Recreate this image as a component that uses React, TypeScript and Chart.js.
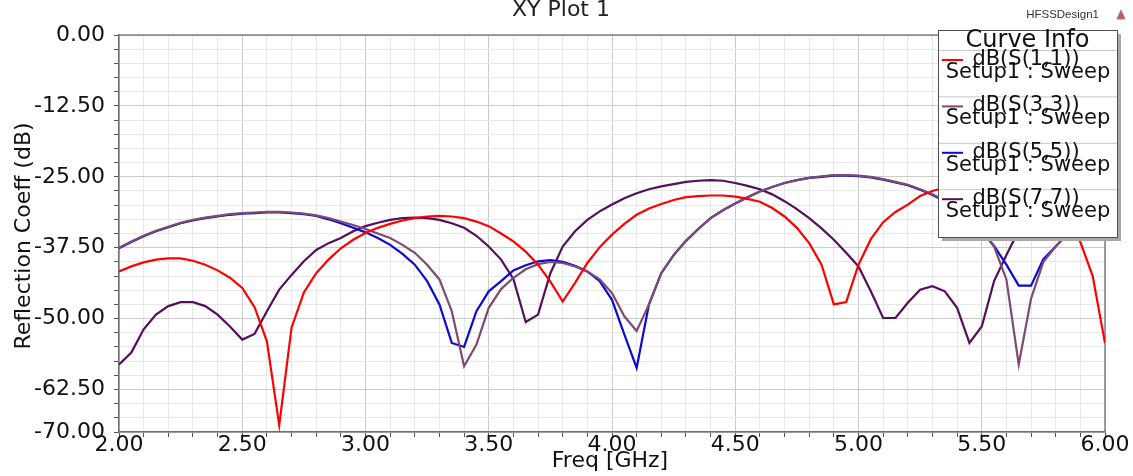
import React, { useEffect, useRef } from "react";
import { Chart, registerables } from "chart.js";

Chart.register(...registerables);

const freqs = [
  2.0, 2.05, 2.1, 2.15, 2.2, 2.25, 2.3, 2.35, 2.4, 2.45,
  2.5, 2.55, 2.6, 2.65, 2.7, 2.75, 2.8, 2.85, 2.9, 2.95,
  3.0, 3.05, 3.1, 3.15, 3.2, 3.25, 3.3, 3.35, 3.4, 3.45,
  3.5, 3.55, 3.6, 3.65, 3.7, 3.75, 3.8, 3.85, 3.9, 3.95,
  4.0, 4.05, 4.1, 4.15, 4.2, 4.25, 4.3, 4.35, 4.4, 4.45,
  4.5, 4.55, 4.6, 4.65, 4.7, 4.75, 4.8, 4.85, 4.9, 4.95,
  5.0, 5.05, 5.1, 5.15, 5.2, 5.25, 5.3, 5.35, 5.4, 5.45,
  5.5, 5.55, 5.6, 5.65, 5.7, 5.75, 5.8, 5.85, 5.9, 5.95,
  6.0,
];

const s11 = [
  -41.7, -40.8, -40.1, -39.6, -39.4, -39.4, -39.8, -40.5, -41.5, -42.8,
  -44.6, -48.0, -54.0, -68.8, -51.6, -45.4, -42.0, -39.6, -37.6, -36.1,
  -34.9, -34.0, -33.3, -32.7, -32.3, -32.0, -31.9, -32.0, -32.3, -32.9,
  -33.7, -35.0, -36.4, -38.2, -40.5, -43.5, -47.0, -43.7, -40.2, -37.4,
  -35.2, -33.3, -31.7, -30.6, -29.8, -29.1, -28.6, -28.4, -28.3, -28.3,
  -28.5, -28.9, -29.4, -30.5, -32.0, -34.0, -36.7, -40.5, -47.5, -47.1,
  -40.5, -36.0, -33.0, -31.2, -29.9, -28.4, -27.5, -26.9, -26.5, -26.2,
  -26.0, -25.9, -26.0, -26.4, -27.2, -28.5, -30.3, -33.0, -36.5, -42.5,
  -54.3,
];

const s33 = [
  -37.5, -36.4, -35.4, -34.5, -33.8, -33.1, -32.6, -32.2, -31.9, -31.6,
  -31.4, -31.3, -31.2, -31.2, -31.3, -31.5, -31.8, -32.3, -32.9, -33.5,
  -34.2, -35.0, -35.8, -37.0, -38.4, -40.5, -43.1, -48.7, -58.4, -54.6,
  -48.1, -44.8, -42.8, -41.3, -40.4, -40.0, -40.2, -40.8, -41.7, -43.1,
  -45.5, -49.6, -52.2, -47.5, -42.0, -38.8, -36.3, -34.2, -32.3, -30.9,
  -29.7, -28.6, -27.6, -26.8, -26.1, -25.6, -25.2, -24.9, -24.7, -24.7,
  -24.8, -25.0, -25.4, -25.9, -26.4, -27.2, -28.1, -29.2, -30.5, -32.2,
  -34.5, -37.3, -43.1, -58.1, -46.5, -40.0, -37.3, -35.0, -33.0, -31.8,
  -31.2,
];

const s55 = [
  -37.6, -36.5, -35.5, -34.6, -33.9, -33.2, -32.7, -32.3, -32.0, -31.7,
  -31.5, -31.4, -31.3, -31.3, -31.4, -31.6, -31.9, -32.5, -33.2, -34.0,
  -34.8, -35.8, -37.0, -38.6, -40.5, -43.4, -47.5, -54.3, -55.0, -48.7,
  -45.2, -43.4, -41.5, -40.6, -39.9, -39.7, -40.0, -40.7, -41.7, -43.4,
  -46.7, -52.8, -58.7, -47.5, -42.0, -38.8, -36.3, -34.2, -32.3, -30.9,
  -29.7, -28.6, -27.6, -26.8, -26.1, -25.6, -25.2, -25.0, -24.8, -24.8,
  -24.9, -25.1, -25.5, -26.0, -26.5, -27.3, -28.2, -29.3, -30.6, -32.3,
  -34.5, -37.2, -40.5, -44.2, -44.2, -39.5, -37.3, -35.0, -33.0, -31.8,
  -31.2,
];

const s77 = [
  -58.1, -56.0, -51.9, -49.3, -47.8, -47.1, -47.1, -47.8, -49.3, -51.4,
  -53.7, -52.7, -48.7, -44.9, -42.3, -39.9, -37.9, -36.7, -35.8, -34.6,
  -33.7, -33.1, -32.6, -32.3, -32.2, -32.3, -32.6, -33.2, -34.0, -35.4,
  -37.3, -39.6, -43.0, -50.6, -49.3, -42.0, -37.3, -34.6, -32.6, -31.1,
  -29.9, -28.8, -27.9, -27.2, -26.7, -26.3, -25.9, -25.7, -25.6, -25.7,
  -26.1, -26.6, -27.2, -28.1, -29.3, -30.7, -32.3, -34.1, -36.1, -38.4,
  -40.8, -45.2, -49.9, -49.9, -47.2, -44.9, -44.3, -45.2, -48.1, -54.3,
  -51.4, -43.4, -38.8, -34.5, -31.5, -29.5, -28.3, -28.0, -28.5, -30.0,
  -32.0,
];

const seriesNames = ["dB(S(1,1))", "dB(S(3,3))", "dB(S(5,5))", "dB(S(7,7))"];
const seriesSub = "Setup1 : Sweep";
const seriesColors = ["#ff0000", "#7d4a72", "#0a0ad2", "#52105a"];
const seriesValues = [s11, s33, s55, s77];

const yMajorTicks = [0, -12.5, -25, -37.5, -50, -62.5, -70];
const xMajorTicks = [2.0, 2.5, 3.0, 3.5, 4.0, 4.5, 5.0, 5.5, 6.0];
const yMinorStep = 2.5;
const xMinorStep = 0.1;

const chartTitle = "XY Plot 1";
const designName = "HFSSDesign1";
const legendTitle = "Curve Info";
const xTitle = "Freq [GHz]";
const yTitle = "Reflection Coeff (dB)";

const FONT = "'DejaVu Sans', sans-serif";

const isMajor = (v: number, list: number[]) => list.some((m) => Math.abs(m - v) < 1e-6);

const overlayPlugin = {
  id: "overlay",
  beforeDatasetsDraw(chart: any) {
    const { ctx, chartArea: a } = chart;
    ctx.save();
    ctx.strokeStyle = "#808080";
    ctx.lineWidth = 1.5;
    ctx.beginPath();
    ctx.moveTo(a.left, a.top);
    ctx.lineTo(a.right, a.top);
    ctx.lineTo(a.right, a.bottom);
    ctx.stroke();
    ctx.restore();
  },
  afterDraw(chart: any) {
    const { ctx } = chart;
    ctx.save();
    // Title (partly cut off at the top, as in the reference)
    ctx.fillStyle = "#222";
    ctx.font = `22px ${FONT}`;
    ctx.textAlign = "center";
    ctx.textBaseline = "alphabetic";
    ctx.fillText(chartTitle, 561, 16);

    // design name
    ctx.font = "11.5px 'Liberation Sans', Arial, sans-serif";
    ctx.fillStyle = "#333";
    ctx.textAlign = "right";
    ctx.fillText(designName, 1099, 18);
    // logo
    ctx.beginPath();
    ctx.moveTo(1117, 19);
    ctx.lineTo(1121, 10);
    ctx.lineTo(1125, 19);
    ctx.closePath();
    ctx.fillStyle = "#e05050";
    ctx.fill();
    ctx.strokeStyle = "#888";
    ctx.lineWidth = 1;
    ctx.stroke();

    // Axis titles
    ctx.fillStyle = "#111";
    ctx.font = `22px ${FONT}`;
    ctx.textAlign = "center";
    ctx.textBaseline = "alphabetic";
    ctx.fillText(xTitle, 610, 467);
    ctx.save();
    ctx.translate(30, 236);
    ctx.rotate(-Math.PI / 2);
    ctx.fillText(yTitle, 0, 0);
    ctx.restore();

    // Legend box
    const bx = 938, by = 30, bw = 179, bh = 207;
    ctx.fillStyle = "#a8a8a8";
    ctx.fillRect(bx + 4, by + 4, bw, bh);
    ctx.fillStyle = "#ffffff";
    ctx.fillRect(bx, by, bw, bh);
    ctx.strokeStyle = "#505050";
    ctx.lineWidth = 1;
    ctx.strokeRect(bx + 0.5, by + 0.5, bw, bh);

    const cx = bx + bw / 2;
    ctx.fillStyle = "#111";
    ctx.font = `24px ${FONT}`;
    ctx.textAlign = "center";
    ctx.fillText(legendTitle, cx, 47);

    const step = 46.4;
    for (let i = 0; i < seriesNames.length; i++) {
      const off = i * step;
      ctx.strokeStyle = "#c8c8c8";
      ctx.lineWidth = 1;
      ctx.beginPath();
      ctx.moveTo(bx + 1, 50.5 + off);
      ctx.lineTo(bx + bw, 50.5 + off);
      ctx.stroke();
      ctx.strokeStyle = seriesColors[i];
      ctx.lineWidth = 2;
      ctx.beginPath();
      ctx.moveTo(942, 60 + off);
      ctx.lineTo(963, 60 + off);
      ctx.stroke();
      ctx.fillStyle = "#111";
      ctx.font = `21px ${FONT}`;
      ctx.textAlign = "center";
      ctx.fillText(seriesNames[i], 1026, 65 + off);
      ctx.fillText(seriesSub, 1028, 78 + off);
    }
    ctx.restore();
  },
};

export default function App() {
  const canvasRef = useRef<HTMLCanvasElement | null>(null);

  useEffect(() => {
    document.body.style.margin = "0";
    document.body.style.overflow = "hidden";
    const canvas = canvasRef.current;
    if (!canvas) return;

    const datasets = seriesValues.map((vals, i) => ({
      label: seriesNames[i],
      data: vals.map((v, j) => ({ x: freqs[j], y: v })),
      borderColor: seriesColors[i],
      backgroundColor: seriesColors[i],
      borderWidth: 2.2,
      pointRadius: 0,
      tension: 0,
      fill: false,
    }));

    const chart = new Chart(canvas, {
      type: "line",
      data: { datasets },
      plugins: [overlayPlugin],
      options: {
        responsive: false,
        animation: false,
        layout: { padding: { left: 0, right: 28, top: 35, bottom: 0 } },
        plugins: {
          legend: { display: false },
          title: { display: false },
          tooltip: { enabled: false },
        },
        scales: {
          x: {
            type: "linear",
            min: xMajorTicks[0],
            max: xMajorTicks[xMajorTicks.length - 1],
            afterBuildTicks: (scale: any) => {
              const ticks: any[] = [];
              const lo = xMajorTicks[0];
              const hi = xMajorTicks[xMajorTicks.length - 1];
              const n = Math.round((hi - lo) / xMinorStep);
              for (let k = 0; k <= n; k++) ticks.push({ value: Math.round((lo + k * xMinorStep) * 100) / 100 });
              scale.ticks = ticks;
            },
            afterFit: (scale: any) => {
              scale.height = 44;
            },
            ticks: {
              autoSkip: false,
              maxRotation: 0,
              minRotation: 0,
              padding: -3,
              color: "#111",
              font: { family: FONT, size: 22, lineHeight: 1 },
              callback: (v: any) => (isMajor(Number(v), xMajorTicks) ? Number(v).toFixed(2) : ""),
            },
            grid: {
              color: (c: any) => (c.tick && isMajor(c.tick.value, xMajorTicks) ? "#cbcbcb" : "#e8e8e8"),
              lineWidth: 1,
              tickLength: 5,
              tickColor: "#555",
            },
            border: { color: "#707070", width: 1.5 },
          },
          y: {
            type: "linear",
            min: -70,
            max: 0,
            afterBuildTicks: (scale: any) => {
              const ticks: any[] = [];
              const n = Math.round(70 / yMinorStep);
              for (let k = 0; k <= n; k++) ticks.push({ value: -k * yMinorStep });
              scale.ticks = ticks;
            },
            afterFit: (scale: any) => {
              scale.width = 119;
            },
            ticks: {
              autoSkip: false,
              padding: 9,
              color: "#111",
              font: { family: FONT, size: 22, lineHeight: 1 },
              callback: (v: any) => (isMajor(Number(v), yMajorTicks) ? Number(v).toFixed(2).replace("-0.00", "0.00") : ""),
            },
            grid: {
              color: (c: any) => (c.tick && isMajor(c.tick.value, yMajorTicks) ? "#cbcbcb" : "#e8e8e8"),
              lineWidth: 1,
              tickLength: 5,
              tickColor: "#555",
            },
            border: { color: "#707070", width: 1.5 },
          },
        },
      },
    });

    return () => chart.destroy();
  }, []);

  return (
    <div style={{ width: 1133, height: 476, background: "#fff" }}>
      <canvas ref={canvasRef} width={1133} height={476} style={{ display: "block" }} />
    </div>
  );
}
